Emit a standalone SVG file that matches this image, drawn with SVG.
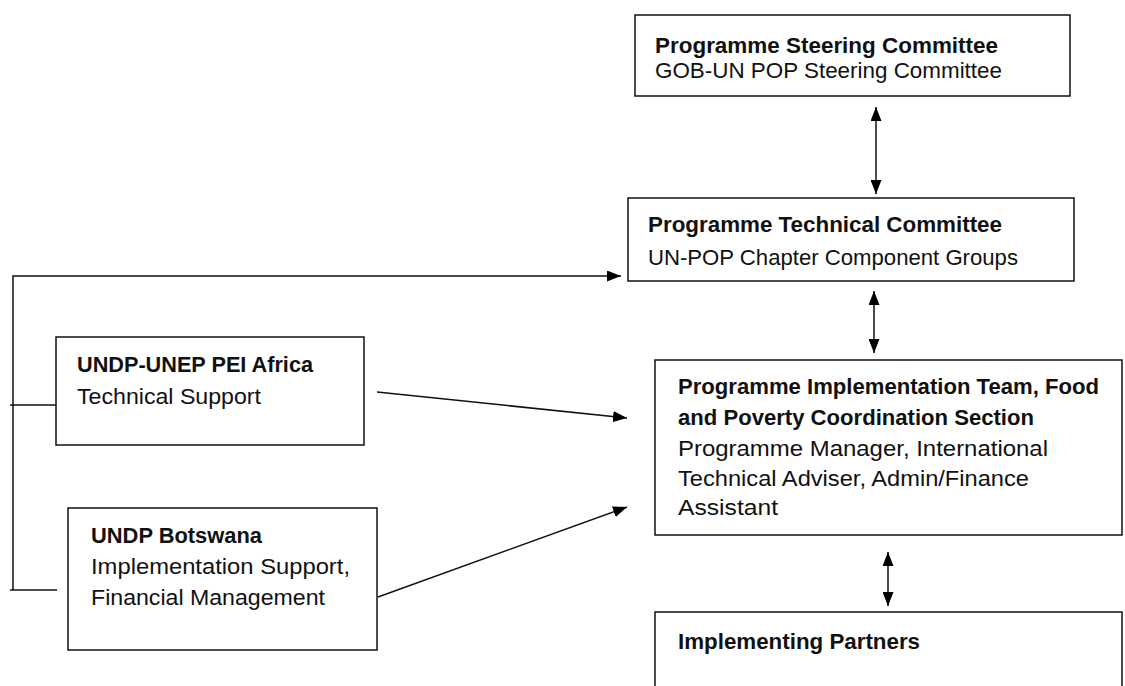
<svg xmlns="http://www.w3.org/2000/svg" width="1125" height="686" viewBox="0 0 1125 686">
  <defs>
    <marker id="arrow" viewBox="0 0 14 11" refX="14" refY="5.5" markerWidth="14" markerHeight="11" markerUnits="userSpaceOnUse" orient="auto-start-reverse">
      <path d="M0,0 L14,5.5 L0,11 Z" fill="#000"/>
    </marker>
    <style>
      .box { fill: #fff; stroke: #111; stroke-width: 1.5; }
      .line { fill: none; stroke: #111; stroke-width: 1.5; }
      .t { font-family: "Liberation Sans", Arial, sans-serif; font-size: 22px; fill: #111; }
      .b { font-weight: bold; }
    </style>
  </defs>

  <rect width="1125" height="686" fill="#fff"/>

  <!-- connectors -->
  <g id="connectors">
    <!-- left bracket feeding the technical committee -->
    <polyline class="line" points="13,590 13,276 621,276" marker-end="url(#arrow)"/>
    <line class="line" x1="10" y1="405" x2="56" y2="405"/>
    <line class="line" x1="10" y1="590" x2="57" y2="590"/>
    <!-- support arrows into the implementation team -->
    <line class="line" x1="377" y1="392" x2="627" y2="418" marker-end="url(#arrow)"/>
    <line class="line" x1="378" y1="597" x2="627" y2="507" marker-end="url(#arrow)"/>
    <!-- two-way links down the right column -->
    <line class="line" x1="876" y1="107" x2="876" y2="194" marker-start="url(#arrow)" marker-end="url(#arrow)"/>
    <line class="line" x1="874" y1="291" x2="874" y2="353" marker-start="url(#arrow)" marker-end="url(#arrow)"/>
    <line class="line" x1="888" y1="552" x2="888" y2="606" marker-start="url(#arrow)" marker-end="url(#arrow)"/>
  </g>

  <g id="steering">
    <rect class="box" x="635" y="15" width="435" height="81"/>
    <text class="t b" x="655" y="53" textLength="343" lengthAdjust="spacingAndGlyphs">Programme Steering Committee</text>
    <text class="t" x="655" y="78" textLength="347" lengthAdjust="spacingAndGlyphs">GOB-UN POP Steering Committee</text>
  </g>

  <g id="technical">
    <rect class="box" x="628" y="198" width="446" height="83"/>
    <text class="t b" x="648" y="232" textLength="354" lengthAdjust="spacingAndGlyphs">Programme Technical Committee</text>
    <text class="t" x="648" y="265" textLength="370" lengthAdjust="spacingAndGlyphs">UN-POP Chapter Component Groups</text>
  </g>

  <g id="pei-africa">
    <rect class="box" x="56" y="337" width="308" height="108"/>
    <text class="t b" x="77" y="372" textLength="236" lengthAdjust="spacingAndGlyphs">UNDP-UNEP PEI Africa</text>
    <text class="t" x="77" y="404" textLength="184" lengthAdjust="spacingAndGlyphs">Technical Support</text>
  </g>

  <g id="implementation">
    <rect class="box" x="655" y="360" width="467" height="175"/>
    <text class="t b" x="678" y="394" textLength="421" lengthAdjust="spacingAndGlyphs">Programme Implementation Team, Food</text>
    <text class="t b" x="678" y="425" textLength="356" lengthAdjust="spacingAndGlyphs">and Poverty Coordination Section</text>
    <text class="t" x="678" y="456" textLength="370" lengthAdjust="spacingAndGlyphs">Programme Manager, International</text>
    <text class="t" x="678" y="486" textLength="351" lengthAdjust="spacingAndGlyphs">Technical Adviser, Admin/Finance</text>
    <text class="t" x="678" y="515" textLength="100" lengthAdjust="spacingAndGlyphs">Assistant</text>
  </g>

  <g id="botswana">
    <rect class="box" x="68" y="508" width="309" height="142"/>
    <text class="t b" x="91" y="543" textLength="171" lengthAdjust="spacingAndGlyphs">UNDP Botswana</text>
    <text class="t" x="91" y="574" textLength="259" lengthAdjust="spacingAndGlyphs">Implementation Support,</text>
    <text class="t" x="91" y="605" textLength="234" lengthAdjust="spacingAndGlyphs">Financial Management</text>
  </g>

  <g id="partners">
    <rect class="box" x="655" y="612" width="467" height="100"/>
    <text class="t b" x="678" y="649" textLength="242" lengthAdjust="spacingAndGlyphs">Implementing Partners</text>
  </g>
</svg>
